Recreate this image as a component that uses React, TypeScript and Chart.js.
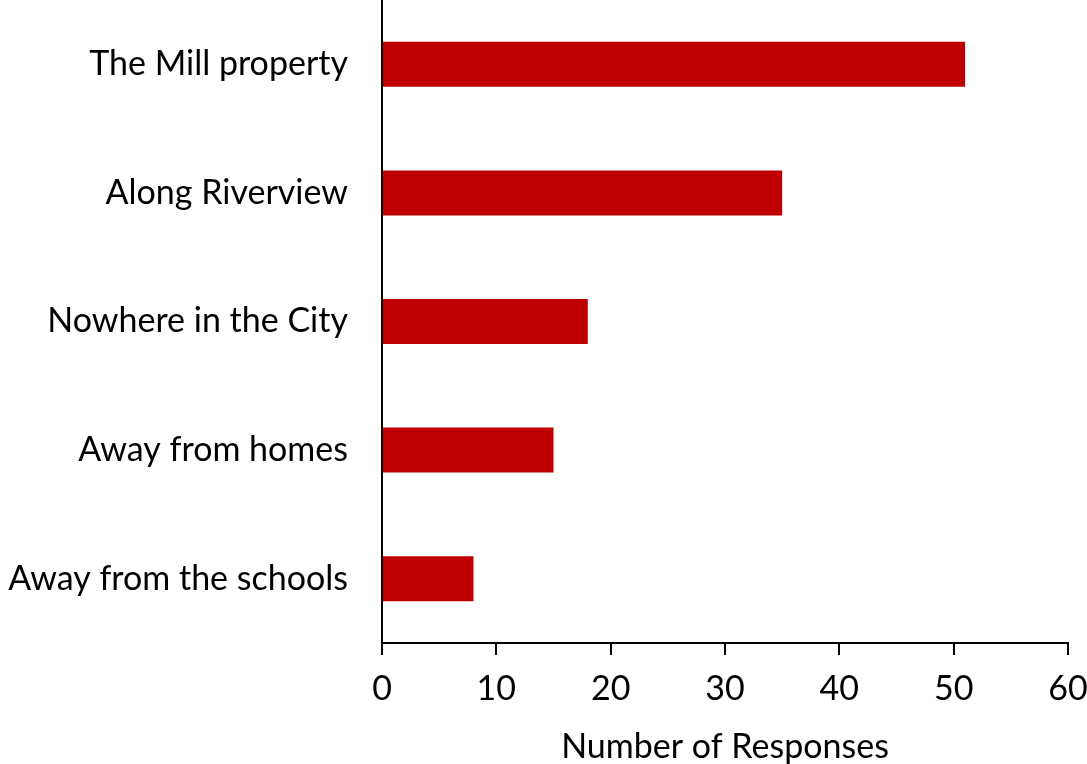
import React, { useEffect, useRef } from "react";
import { Chart, registerables } from "chart.js";

Chart.register(...registerables);

const categories = [
  "The Mill property",
  "Along Riverview",
  "Nowhere in the City",
  "Away from homes",
  "Away from the schools",
];
const responses = [51, 35, 18, 15, 8];
const xMin = 0;
const xMax = 60;
const xStep = 10;
const xTitle = "Number of Responses";

const FONT = "Lato, 'Open Sans', sans-serif";

export default function App() {
  const ref = useRef<HTMLCanvasElement>(null);
  useEffect(() => {
    if (!ref.current) return;
    const chart = new Chart(ref.current, {
      type: "bar",
      data: {
        labels: categories,
        datasets: [
          {
            data: responses,
            backgroundColor: "#C00000",
            borderWidth: 0,
            barPercentage: 0.35,
            categoryPercentage: 1,
          },
        ],
      },
      options: {
        indexAxis: "y",
        responsive: false,
        animation: false,
        layout: { padding: 0 },
        plugins: { legend: { display: false }, tooltip: { enabled: false } },
        scales: {
          x: {
            min: xMin,
            max: xMax,
            ticks: {
              stepSize: xStep,
              color: "#000",
              font: { family: FONT, size: 34 },
              padding: 14,
              maxRotation: 0,
            },
            grid: {
              display: true,
              drawOnChartArea: false,
              drawTicks: true,
              tickLength: 12,
              color: "#000",
              lineWidth: 2,
            },
            border: { display: true, color: "#000", width: 2 },
            title: {
              display: true,
              text: xTitle,
              color: "#000",
              font: { family: FONT, size: 34, lineHeight: 1 },
              padding: { top: 0, bottom: 0 },
            },
            afterFit: (s: any) => {
              s.height = 121;
              s.paddingLeft = 0;
              s.paddingRight = 19;
            },
          },
          y: {
            ticks: {
              color: "#000",
              font: { family: FONT, size: 34 },
              padding: 0,
            },
            grid: { display: false, drawTicks: true, tickLength: 34 },
            border: { display: true, color: "#000", width: 2 },
            afterFit: (s: any) => {
              s.width = 382;
              s.paddingTop = 0;
              s.paddingBottom = 0;
            },
          },
        },
      },
    });
    return () => chart.destroy();
  }, []);
  return (
    <div style={{ position: "fixed", left: 0, top: 0, width: 1087, height: 764, background: "#fff" }}>
      <canvas ref={ref} width={1087} height={764} style={{ width: 1087, height: 764 }} />
    </div>
  );
}
